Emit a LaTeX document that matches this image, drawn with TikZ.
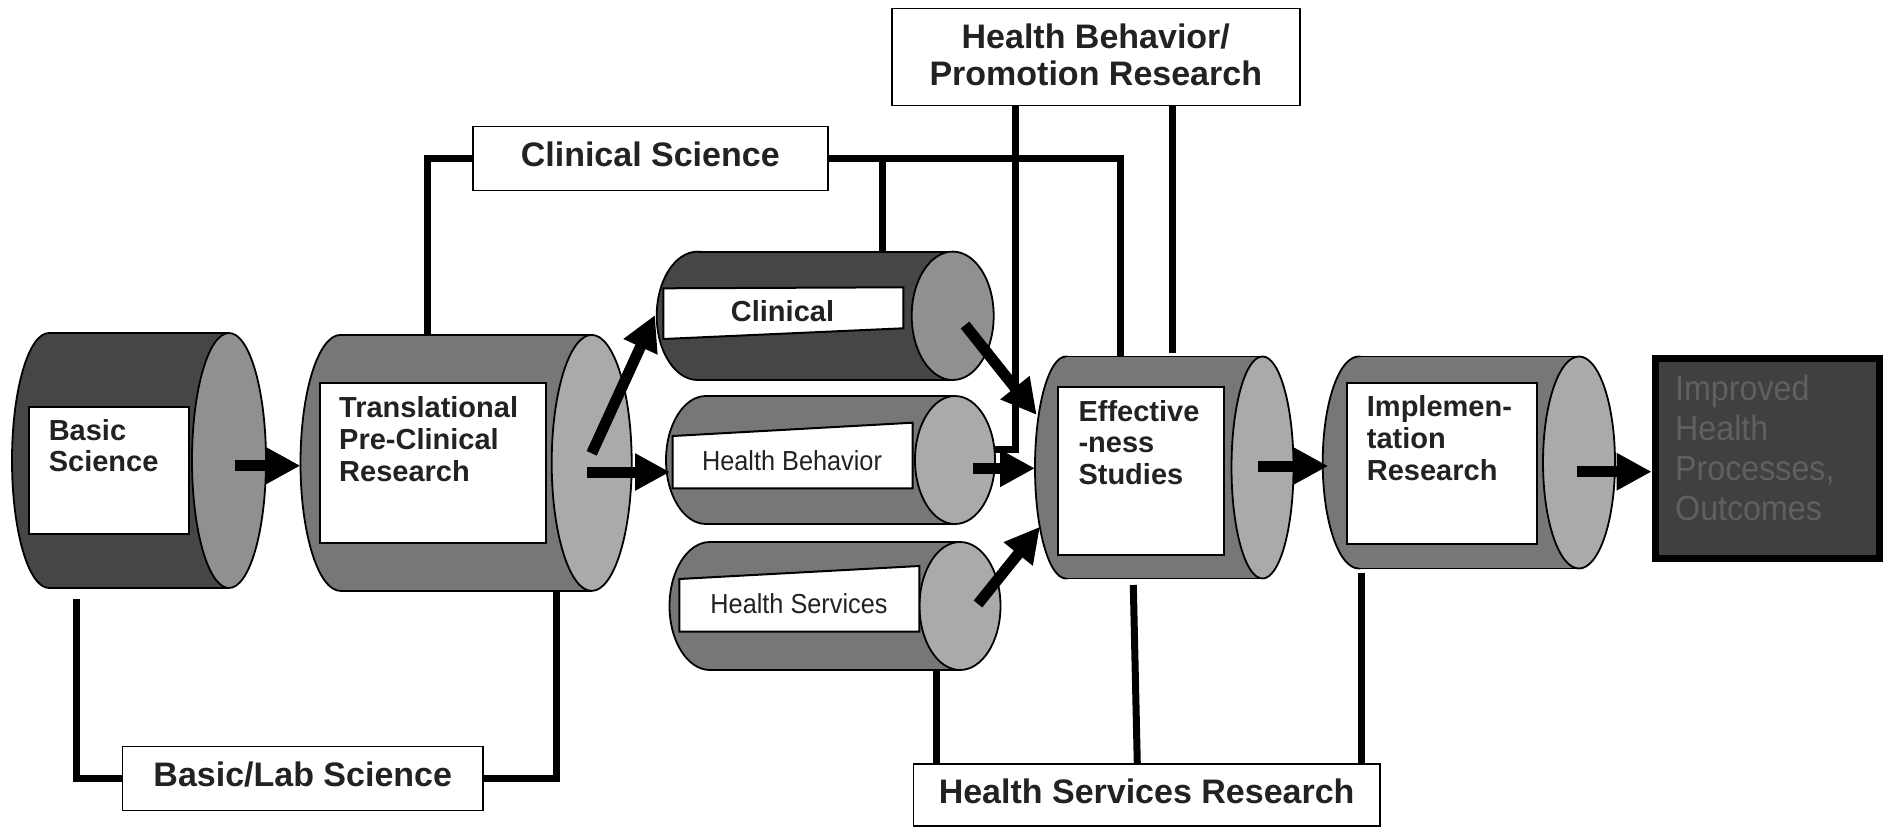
\documentclass[tikz,border=0pt]{standalone}
\usepackage{fontspec}
\setmainfont{Liberation Sans}
\newfontfamily\narrowfont[FakeStretch=0.92]{Liberation Sans}
\usetikzlibrary{arrows.meta}
\definecolor{dk}{HTML}{464646}
\definecolor{dkend}{HTML}{909090}
\definecolor{md}{HTML}{777777}
\definecolor{mdend}{HTML}{AAAAAA}
\definecolor{outfill}{HTML}{404040}
\definecolor{outtext}{HTML}{606060}
\definecolor{txt}{HTML}{222222}
\newcommand\hcyl[7]{%
  \fill[#6] (#1,#3) ellipse [x radius=#4pt, y radius=#5pt];
  \draw[cylline] (#1,#3) ellipse [x radius=#4pt, y radius=#5pt];
  \fill[#6] (#1,#3-#5) rectangle (#2,#3+#5);
  \draw[cylline] (#1,#3-#5) -- (#2,#3-#5) (#1,#3+#5) -- (#2,#3+#5);
  \filldraw[fill=#7, cylline] (#2,#3) ellipse [x radius=#4pt, y radius=#5pt];
}
\begin{document}
\begin{tikzpicture}[x=1pt,y=-1pt,
  cylline/.style={draw=black, line width=1.8pt},
  conn/.style={line width=7pt, line join=miter, line cap=butt},
  flow/.style={line width=11pt, -{Triangle[length=35pt,width=35pt]}},
  wbox/.style={draw=black, fill=white, line width=2pt},
  cyltext/.style={font=\bfseries\fontsize{29}{31.7}\selectfont, align=left, anchor=north west, inner sep=0pt, text=txt},
  lbl/.style={draw=black, fill=white, line width=1.5pt, inner sep=0pt, text=txt, font=\bfseries\fontsize{34}{37}\selectfont},
  lblone/.style={lbl, text height=25pt, text depth=9pt}]
\useasboundingbox (0,0) rectangle (1885,827);

% ---- label boxes
\node[lblone, minimum width=355pt, minimum height=64pt] (cs) at (650.25,158.7) {Clinical Science};
\node[draw=black, fill=white, line width=1.5pt, minimum width=408pt, minimum height=97.4pt] (hbpr) at (1095.8,57) {};
\node[lbl, draw=none, fill=none, align=center] (hbprt) at (1095.8,54.5) {Health Behavior/\\Promotion Research};
\node[lblone, minimum width=360.5pt, minimum height=64pt] (bls) at (302.75,778.7) {Basic/Lab Science};
\node[lblone, minimum width=466.7pt, minimum height=62pt] (hsr) at (1146.65,795) {Health Services Research};

% ---- connector end points
\coordinate (trans-top) at (427,335);
\coordinate (clin-top) at (882.8,251.7);
\coordinate (eff-top1) at (1120,356.5);
\coordinate (eff-top2) at (1172.7,353);
\coordinate (hbpr-a) at (1015,105.7);
\coordinate (hb-in) at (995,449.3);
\coordinate (basic-bot) at (76.5,599);
\coordinate (trans-bot) at (556.8,591);
\coordinate (hs-bot) at (936,670);
\coordinate (eff-bot) at (1133.3,585);
\coordinate (hsr-b) at (1137.3,764);
\coordinate (impl-bot) at (1361.7,573);

% ---- connectors
\draw[conn] (cs.west) -| (trans-top);
\draw[conn] (cs.east) -| (eff-top1);
\draw[conn] (clin-top |- cs.east) -- (clin-top);
\draw[conn] (hbpr-a) |- (hb-in);
\draw[conn] (eff-top2 |- hbpr.south) -- (eff-top2);
\draw[conn] (basic-bot) |- (bls.west);
\draw[conn] (bls.east) -| (trans-bot);
\draw[conn] (hs-bot) -- (hs-bot |- hsr.north);
\draw[conn] (eff-bot) -- (hsr-b);
\draw[conn] (impl-bot) -- (impl-bot |- hsr.north);

% ---- cylinders
\hcyl{49}{229}{460.5}{37}{127.5}{dk}{dkend}
\hcyl{340.5}{591.7}{462.9}{40}{128}{md}{mdend}
\hcyl{697.7}{952.7}{315.8}{41}{64.2}{dk}{dkend}
\hcyl{706}{955}{460}{40}{64}{md}{mdend}
\hcyl{710}{960}{606}{40.5}{64}{md}{mdend}
\hcyl{1066}{1262.5}{467.5}{31}{111}{md}{mdend}
\hcyl{1358.7}{1579}{462.5}{36}{106}{md}{mdend}

% ---- white boxes
\draw[wbox] (28.5,406.7) rectangle (189,534);
\draw[wbox] (319.5,382.7) rectangle (545.7,542.7);
\draw[wbox] (663.3,288.3) -- (903.3,287.3) -- (903.3,328.3) -- (663.3,339) -- cycle;
\draw[wbox] (672.7,436) -- (912.7,422.7) -- (912.7,488.3) -- (672.7,488.3) -- cycle;
\draw[wbox] (679.3,579) -- (919.3,566) -- (919.3,631.7) -- (679.3,631.7) -- cycle;
\draw[wbox] (1058.3,386.7) rectangle (1224,555);
\draw[wbox] (1346.7,383.3) rectangle (1536.7,544);

% ---- texts
\node[cyltext] (basic) at (48.6,419) {Basic\\Science};
\node[cyltext] (trans) at (339,396.7) {Translational\\Pre-Clinical\\Research};
\node[cyltext] (eff) at (1078.3,400) {Effective\\-ness\\Studies};
\node[cyltext] (impl) at (1366.7,395.7) {Implemen-\\tation\\Research};
\node[anchor=base, inner sep=0pt, text=txt, font=\bfseries\fontsize{29}{31.7}\selectfont] (clin) at (782.5,321) {Clinical};
\node[anchor=base, inner sep=0pt, text=txt, font=\narrowfont\fontsize{27.5}{32}\selectfont] (hb) at (792,470.7) {Health Behavior};
\node[anchor=base, inner sep=0pt, text=txt, font=\narrowfont\fontsize{27.5}{32}\selectfont] (hs) at (799,613.3) {Health Services};

% ---- outcome box
\node[draw=black, line width=7pt, fill=outfill, minimum width=224.6pt, minimum height=199.7pt, inner sep=0pt] (imp) at (1767.5,458.35) {};
\node[anchor=north west, inner sep=0pt, align=left, text=outtext, font=\narrowfont\fontsize{35}{40}\selectfont] (impt) at (1675,374.5) {Improved\\Health\\Processes,\\Outcomes};

% ---- arrow end points
\coordinate (a1s) at (234.5,465.7); \coordinate (a1e) at (300.5,465.7);
\coordinate (a2s) at (591.7,453.3); \coordinate (a2e) at (655,315);
\coordinate (a3s) at (587.3,472);   \coordinate (a3e) at (670,472);
\coordinate (a4s) at (965,325);     \coordinate (a4e) at (1036.7,415);
\coordinate (a5s) at (973.3,468.3); \coordinate (a5e) at (1035,468.3);
\coordinate (a6s) at (978,604);     \coordinate (a6e) at (1040,526.7);
\coordinate (a7s) at (1258.3,466);  \coordinate (a7e) at (1328.3,466);
\coordinate (a8s) at (1576.7,471.7); \coordinate (a8e) at (1651.7,471.7);

\draw[flow] (a1s) -- (a1e);
\draw[flow] (a2s) -- (a2e);
\draw[flow] (a3s) -- (a3e);
\draw[flow] (a4s) -- (a4e);
\draw[flow] (a5s) -- (a5e);
\draw[flow] (a6s) -- (a6e);
\draw[flow] (a7s) -- (a7e);
\draw[flow] (a8s) -- (a8e);
\end{tikzpicture}
\end{document}
